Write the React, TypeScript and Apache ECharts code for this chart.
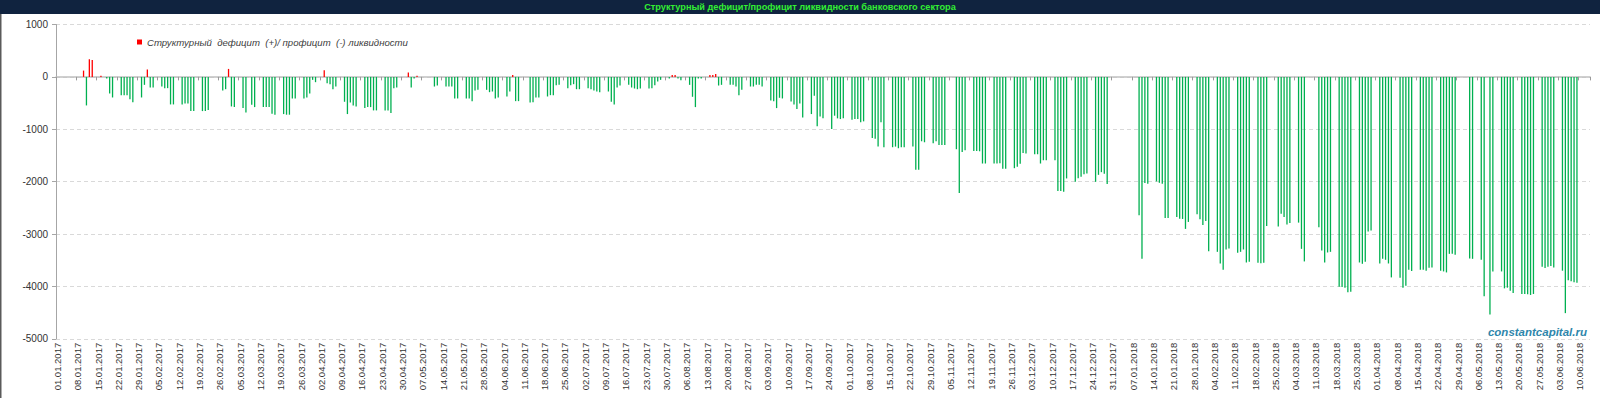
import React, { useEffect, useRef } from "react";
import * as echarts from "echarts";

const _ = null;

// Daily values (one entry per calendar day, null = no value / weekend / holiday)
const jan17 = [_,_,_,_,_,_,_,_,_,120,-545,336,323,_,_,20,_,-32,-317,-393,_,_,-349,-349,-349,-425,-482,_,_,-393,-152];
const feb17 = [140,-203,-203,_,_,-184,-215,-215,-526,-526,_,_,-526,-507,-507,-653,-653,_,_,-653,-653,-634,_,_,_,_,-260,-235];
const mar17 = [152,-564,-577,_,_,-596,-678,_,-532,-577,_,_,-577,-577,-577,-703,-722,_,_,-710,-722,-722,-412,-412,_,_,-412,-393,-317,-57,-101];
const apr17 = [_,_,127,-120,-139,-235,-184,_,_,-475,-710,-488,-545,-564,_,_,-596,-577,-577,-640,-640,_,_,-640,-640,-691,-215,-203,_,_];
const may17 = [_,82,-203,-32,20,_,_,_,_,_,-184,-165,_,_,-184,-184,-184,-412,-412,_,_,-412,-412,-463,-260,-247,_,_,-247,-292,-279];
const jun17 = [-412,-393,_,_,-374,-279,38,-463,-463,_,_,_,-488,-482,-393,-393,_,_,-374,-349,-349,-158,-152,_,_,-215,-158,-139,-235,-235];
const jul17 = [_,_,-215,-235,-260,-279,-292,_,_,-279,-475,-526,-203,-165,_,_,-152,-203,-222,-235,-222,_,_,-222,-215,-158,-89,-57,_,_,-32];
const aug17 = [38,38,-32,-63,_,_,-152,-380,-577,-32,-32,_,_,38,38,57,-165,-152,_,_,-152,-152,-184,-349,-247,_,_,-184,-184,-152,-152];
const sep17 = [-184,_,_,-450,-463,-596,-399,-412,_,_,-469,-526,-615,-507,-773,_,_,-710,-361,-944,-754,-792,_,_,-995,-741,-792,-805,-792,_];
const oct17 = [_,-817,-805,-805,-868,-849,_,_,-1166,-1179,-1331,-868,-1343,_,_,-1343,-1331,-1362,-1343,-1343,_,_,-1331,-1774,-1774,-1229,-1248,_,_,-1267,-1229];
const nov17 = [-1299,-1299,-1299,_,_,_,-1381,-2218,-1432,-1400,_,_,-1413,-1413,-1420,-1654,-1654,_,_,-1654,-1654,-1648,-1755,-1755,_,_,-1743,-1717,-1660,-1451];
const dec17 = [-1464,_,_,-1477,-1477,-1654,-1591,-1591,_,_,-1591,-2180,-2180,-2193,-1939,_,_,-2003,-1933,-1907,-1857,-1844,_,_,-2003,-1870,-1819,-1850,-2047,_,_];
const jan18 = [_,_,_,_,_,_,_,_,-2643,-3473,-2028,-2041,_,_,-1996,-2022,-2041,-2693,-2693,_,_,-2674,-2706,-2712,-2902,-2769,_,_,-2624,-2719,-2826];
const feb18 = [-2750,-3327,_,_,-3340,-3562,-3682,-3295,-3276,_,_,-3359,-3340,-3295,-3543,-3530,_,_,-3549,-3556,-3549,-2846,_,_,_,-2858,-2611,-2674];
const mar18 = [-2820,-2788,_,_,-2782,-3283,-3523,_,_,_,_,-2871,-3314,-3543,-3352,-3340,_,_,-4005,-4011,-4024,-4113,-4100,_,_,-3543,-3568,-3530,-2953,-2934,_];
const apr18 = [_,-3562,-3473,-3492,-3562,-3828,_,_,-3834,-4024,-3986,-3682,-3707,_,_,-3682,-3682,-3701,-3644,-3638,_,_,-3701,-3714,-3733,-3378,-3378,-3397,_,_];
const may18 = [_,_,-3466,-3473,_,_,-3492,-4189,_,-4537,-3714,_,_,-3714,-4037,-4024,-4081,-4125,_,_,-4144,-4144,-4151,-4163,-4144,_,_,-3625,-3650,-3625,-3612];
const jun18 = [-3638,_,_,-3700,-4510,-3880,-3900,-3920,-3930,_,_,_,_];

const months = [jan17, feb17, mar17, apr17, may17, jun17, jul17, aug17, sep17, oct17, nov17, dec17,
  jan18, feb18, mar18, apr18, may18, jun18];

const firstDay = { year: 2017, month: 0, day: 1 };
const yMin = -5000;
const yMax = 1000;
const yStep = 1000;

const seriesName = "Структурный  дефицит  (+)/ профицит  (-) ликвидности";
const titleText = "Структурный дефицит/профицит ликвидности банковского сектора";
const watermark = "constantcapital.ru";

const GREEN = "#00b050";
const RED = "#ff0000";

function pad(n: number) {
  return n < 10 ? "0" + n : "" + n;
}

export default function App() {
  const ref = useRef<HTMLDivElement | null>(null);

  useEffect(() => {
    document.body.style.margin = "0";
    if (!ref.current) return;
    const values: (number | null)[] = ([] as (number | null)[]).concat(...months);
    const categories: string[] = [];
    for (let i = 0; i < values.length; i++) {
      const d = new Date(Date.UTC(firstDay.year, firstDay.month, firstDay.day + i));
      categories.push(pad(d.getUTCDate()) + "." + pad(d.getUTCMonth() + 1) + "." + d.getUTCFullYear());
    }
    const data = values.map((v) =>
      v == null ? null : v < 0 ? { value: v, itemStyle: { color: GREEN } } : v
    );

    const chart = echarts.init(ref.current, undefined, { renderer: "svg" });
    chart.setOption({
      animation: false,
      backgroundColor: "#ffffff",
      color: [RED],
      grid: { left: 56, right: 10, top: 24.5, bottom: 59.2, containLabel: false },
      legend: {
        left: 132,
        top: 32,
        itemWidth: 5,
        itemHeight: 5,
        icon: "rect",
        selectedMode: false,
        data: [{ name: seriesName, itemStyle: { color: RED } }],
        textStyle: {
          fontFamily: "Liberation Sans",
          fontStyle: "italic",
          fontSize: 9.6,
          color: "#404040",
        },
      },
      xAxis: [
        {
          type: "category",
          data: categories,
          position: "bottom",
          axisLine: { show: false, onZero: false },
          axisTick: { show: false },
          splitLine: { show: false },
          axisLabel: {
            interval: 6,
            rotate: 90,
            fontSize: 9.5,
            color: "#333333",
            margin: 4,
            fontFamily: "Liberation Sans",
          },
        },
        {
          type: "category",
          data: categories,
          position: "top",
          axisLine: { show: true, onZero: true, lineStyle: { color: "#c0c0c0", width: 1.5 } },
          axisTick: { show: true, interval: 6, inside: true, length: 3.5, lineStyle: { color: "#9a9a9a" } },
          axisLabel: { show: false },
          splitLine: { show: false },
        },
      ],
      yAxis: {
        type: "value",
        min: yMin,
        max: yMax,
        interval: yStep,
        axisLine: { show: true, lineStyle: { color: "#a6a6a6" } },
        axisTick: { show: true, length: 4, lineStyle: { color: "#a6a6a6" } },
        axisLabel: {
          fontSize: 10,
          color: "#333333",
          margin: 8,
          fontFamily: "Liberation Sans",
          formatter: (v: number) => String(v),
        },
        splitLine: { show: true, lineStyle: { type: [4, 3], color: "#d9d9d9", width: 1 } },
      },
      series: [
        {
          name: seriesName,
          type: "bar",
          xAxisIndex: 0,
          barWidth: 1.3,
          data,
        },
      ],
      graphic: [
        { type: "rect", shape: { x: 0, y: 0, width: 1600, height: 14 }, style: { fill: "#10233f" } },
        { type: "rect", shape: { x: 0, y: 14, width: 1.5, height: 384 }, style: { fill: "#5a5a5a" } },
        {
          type: "text",
          x: 800,
          y: 7,
          style: {
            text: titleText,
            fill: "#33ee33",
            font: 'bold 9.2px "Liberation Sans"',
            align: "center",
            verticalAlign: "middle",
            textAlign: "center",
            textVerticalAlign: "middle",
          },
        },
        {
          type: "text",
          x: 1587,
          y: 332,
          style: {
            text: watermark,
            fill: "#2e86ab",
            font: 'italic bold 11.5px "Liberation Sans"',
            align: "right",
            verticalAlign: "middle",
            textAlign: "right",
            textVerticalAlign: "middle",
          },
        },
      ],
    });
    return () => chart.dispose();
  }, []);

  return <div ref={ref} style={{ width: 1600, height: 398 }} />;
}
